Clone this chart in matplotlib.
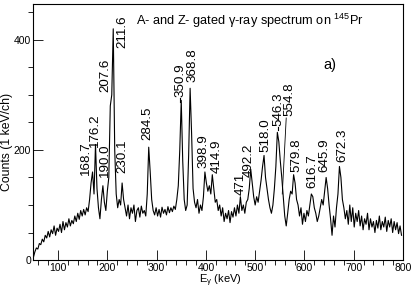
import matplotlib
matplotlib.use('Agg')
import matplotlib.pyplot as plt
import numpy as np

plt.rcParams['font.family'] = ['Liberation Sans', 'DejaVu Sans']
plt.rcParams['mathtext.fontset'] = 'custom'
plt.rcParams['mathtext.rm'] = 'Liberation Sans'
plt.rcParams['mathtext.it'] = 'Liberation Sans:italic'
plt.rcParams['mathtext.default'] = 'regular'

# spectrum, 3 keV per point starting at 50 keV
counts = [
    5, 15, 22, 20, 30, 28, 38, 33, 45, 40,
    52, 42, 55, 48, 62, 45, 58, 52, 65, 50,
    70, 55, 68, 60, 75, 62, 72, 66, 80, 70,
    85, 74, 90, 80, 92, 82, 95, 88, 110, 140,
    160, 120, 210, 130, 95, 75, 110, 135, 105, 90,
    125, 150, 280, 300, 420, 200, 120, 95, 110, 100,
    140, 110, 95, 80, 100, 75, 95, 85, 100, 70,
    90, 95, 78, 98, 85, 90, 80, 120, 205, 160,
    110, 90, 82, 95, 80, 92, 78, 96, 85, 92,
    82, 97, 86, 95, 88, 98, 92, 110, 135, 200,
    290, 180, 110, 90, 100, 190, 312, 230, 130, 105,
    95, 110, 85, 100, 90, 115, 160, 140, 125, 135,
    120, 155, 130, 105, 110, 90, 100, 80, 95, 70,
    85, 75, 90, 68, 88, 78, 95, 80, 100, 85,
    115, 90, 100, 85, 105, 110, 130, 165, 140, 115,
    100, 115, 105, 125, 145, 170, 190, 150, 130, 110,
    95, 85, 100, 130, 170, 232, 215, 180, 150, 115,
    80, 62, 85, 110, 125, 120, 155, 140, 110, 100,
    80, 95, 65, 85, 70, 90, 80, 100, 120, 115,
    95, 85, 70, 80, 95, 110, 100, 125, 150, 130,
    100, 75, 45, 80, 60, 95, 120, 170, 150, 110,
    95, 75, 90, 65, 100, 70, 95, 60, 85, 70,
    90, 62, 80, 55, 75, 65, 85, 55, 75, 60,
    70, 50, 72, 58, 80, 55, 70, 60, 78, 52,
    72, 60, 75, 50, 70, 55, 68, 48, 62, 45,
]
energies = 50 + 3 * np.arange(len(counts))

peak_names = ['168.7', '176.2', '190.0', '207.6', '211.6', '230.1', '284.5',
              '350.9', '368.8', '398.9', '414.9', '471', '492.2', '518.0',
              '546.3', '554.8', '579.8', '616.7', '645.9', '672.3']

# where each label sits (centre x in keV, bottom in counts)
label_pos = [(157, 154), (175, 205), (195, 151), (197, 305), (230, 385),
             (230, 158), (281, 218), (348, 296), (372, 324), (396, 167),
             (421, 158), (471, 118), (487, 151), (520, 196), (547, 244),
             (569, 262), (583, 160), (617, 131), (641, 160), (676, 178)]

fig = plt.figure(figsize=(4.15, 2.88), dpi=100)
ax = fig.add_axes([0.0805, 0.097, 0.8906, 0.889])

ax.plot(energies, counts, color='black', lw=0.8)

for name, (x, y) in zip(peak_names, label_pos):
    ax.text(x, y, name, rotation=90, ha='center', va='bottom', fontsize=9.6)

# leader lines
ax.plot([348, 348], [294, 287], color='black', lw=0.8)
ax.plot([547, 547], [242, 236], color='black', lw=0.8)
ax.plot([563, 555], [258, 120], color='black', lw=0.6)

ax.set_xlim(50, 800)
ax.set_ylim(0, 465)
ax.set_xticks([100, 200, 300, 400, 500, 600, 700, 800])
ax.set_xticks(np.arange(60, 800, 20), minor=True)
ax.set_yticks([0, 200, 400])
ax.set_yticks(np.arange(0, 465, 50), minor=True)
ax.tick_params(direction='in', labelsize=7.5, width=0.6, pad=1.8)
ax.tick_params(which='major', length=7)
ax.tick_params(which='minor', length=3.5, width=0.6)
for s in ax.spines.values():
    s.set_linewidth(0.8)

ax.set_xlabel('E$_{γ}$ (keV)', fontsize=8, va='center')
ax.xaxis.set_label_coords(0.505, -0.08)
ax.set_ylabel('Counts (1 keV/ch)', fontsize=8.8, va='center')
ax.yaxis.set_label_coords(-0.072, 0.46)

fig.text(0.602, 0.928, 'A- and Z- gated γ-ray spectrum on $^{145}$Pr',
         ha='center', va='center', fontsize=9.2)
ax.text(651, 354, 'a)', ha='center', va='center', fontsize=10.5)

fig.savefig('out.png', dpi=100)
